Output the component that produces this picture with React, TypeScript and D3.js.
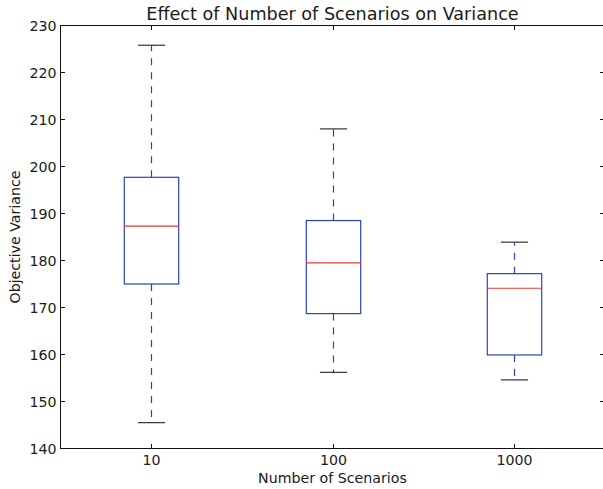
import { useMemo } from 'react';
import * as d3 from 'd3';

const categories = ['10', '100', '1000'];
const whiskerLow = [145.5, 156.2, 154.6];
const q1 = [175.0, 168.7, 159.9];
const median = [187.3, 179.5, 174.1];
const q3 = [197.7, 188.5, 177.2];
const whiskerHigh = [225.8, 208.0, 183.9];
const yTicks = [140, 150, 160, 170, 180, 190, 200, 210, 220, 230];

const W = 603;
const H = 489;
const FONT = '"DejaVu Sans", sans-serif';
const TEXT = '#1a1a1a';
const BLUE = '#2a44b8';
const RED = '#ee3838';

export default function App() {
  const margin = { top: 25.5, left: 60.5, right: 604.5, bottom: 448.5 };

  const x = useMemo(
    () => d3.scaleLinear().domain([0.5, 3.5]).range([margin.left, margin.right]),
    []
  );
  const y = useMemo(
    () => d3.scaleLinear().domain([140, 230]).range([margin.bottom, margin.top]),
    []
  );

  const boxHalf = x(1.15) - x(1);
  const capHalf = x(1.075) - x(1);

  return (
    <svg
      width={W}
      height={H}
      style={{ position: 'absolute', left: 0, top: 0, background: '#fff' }}
      fontFamily={FONT}
    >
      {/* title */}
      <text
        x={(margin.left + margin.right) / 2}
        y={20}
        textAnchor="middle"
        fontSize={17.6}
        fill={TEXT}
      >
        Effect of Number of Scenarios on Variance
      </text>

      {/* boxes */}
      {categories.map((c, i) => {
        const cx = Math.round(x(i + 1)) + 0.5;
        return (
          <g key={c}>
            <line x1={cx} x2={cx} y1={y(q1[i])} y2={y(whiskerLow[i])}
              stroke={BLUE} strokeWidth={1.2} strokeDasharray="7,7" />
            <line x1={cx} x2={cx} y1={y(q3[i])} y2={y(whiskerHigh[i])}
              stroke={BLUE} strokeWidth={1.2} strokeDasharray="7,7" />
            <line x1={cx - capHalf} x2={cx + capHalf} y1={y(whiskerLow[i])} y2={y(whiskerLow[i])}
              stroke="#333" strokeWidth={1.2} />
            <line x1={cx - capHalf} x2={cx + capHalf} y1={y(whiskerHigh[i])} y2={y(whiskerHigh[i])}
              stroke="#333" strokeWidth={1.2} />
            <rect x={cx - boxHalf} y={y(q3[i])} width={boxHalf * 2}
              height={y(q1[i]) - y(q3[i])} fill="none" stroke={BLUE} strokeWidth={1.2} />
            <line x1={cx - boxHalf} x2={cx + boxHalf} y1={y(median[i])} y2={y(median[i])}
              stroke={RED} strokeWidth={1.2} />
          </g>
        );
      })}

      {/* frame */}
      <rect x={margin.left} y={margin.top} width={margin.right - margin.left}
        height={margin.bottom - margin.top} fill="none" stroke="#111" strokeWidth={1} />

      {/* y ticks */}
      {yTicks.map(t => {
        const ty = Math.round(y(t) - 0.5) + 0.5;
        return (
          <g key={t}>
            <line x1={margin.left} x2={margin.left + 4.5} y1={ty} y2={ty} stroke="#111" />
            <line x1={margin.right} x2={margin.right - 4.5} y1={ty} y2={ty} stroke="#111" />
            <text x={margin.left - 4} y={ty} dy="0.36em" textAnchor="end"
              fontSize={14.2} fill={TEXT}>{t}</text>
          </g>
        );
      })}

      {/* x ticks */}
      {categories.map((c, i) => {
        const cx = Math.round(x(i + 1)) + 0.5;
        return (
          <g key={c}>
            <line x1={cx} x2={cx} y1={margin.bottom} y2={margin.bottom - 4.5} stroke="#111" />
            <line x1={cx} x2={cx} y1={margin.top} y2={margin.top + 4.5} stroke="#111" />
            <text x={cx} y={465} textAnchor="middle" fontSize={14.2} fill={TEXT}>{c}</text>
          </g>
        );
      })}

      {/* axis labels */}
      <text x={(margin.left + margin.right) / 2} y={483} textAnchor="middle"
        fontSize={14.2} fill={TEXT}>Number of Scenarios</text>
      <text transform={`translate(19.5, ${(margin.top + margin.bottom) / 2}) rotate(-90)`}
        textAnchor="middle" fontSize={14.2} fill={TEXT}>Objective Variance</text>
    </svg>
  );
}
